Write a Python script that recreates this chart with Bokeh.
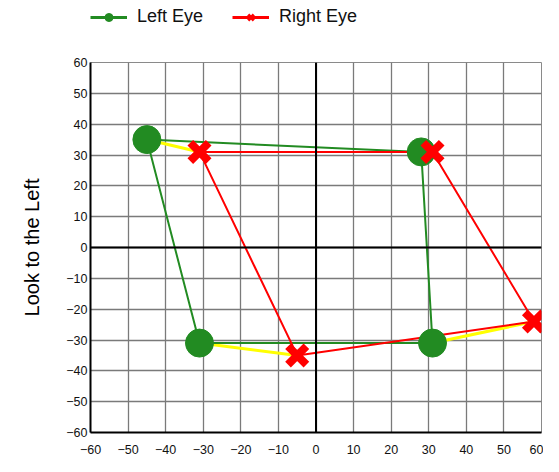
from bokeh.plotting import figure
from bokeh.layouts import column
from bokeh.models import (Range1d, FixedTicker, Span, Legend, LegendItem,
                          ColumnDataSource)
from bokeh.embed import file_html
from bokeh.resources import INLINE

# ---- data ----
left_x = [-45, 28, 31, -31]
left_y = [35, 31, -31, -31]
right_x = [-31, 31, 58, -5]
right_y = [31, 31, -24, -35]
ticks = list(range(-60, 61, 10))
series_names = ["Left Eye", "Right Eye"]
y_title = "Look to the Left"

GREEN = "#228B22"
RED = "#FF0000"
YELLOW = "#FFFF00"
FONT = "Liberation Sans"

# ---------- legend strip ----------
pl = figure(width=543, height=30, output_backend="svg", toolbar_location=None,
            x_range=Range1d(-60, 60), y_range=Range1d(-60, 60),
            x_axis_location=None, y_axis_location=None,
            min_border_left=0, min_border_right=0, min_border_top=0,
            min_border_bottom=0)
pl.grid.visible = False
pl.outline_line_color = None
pl.background_fill_color = "white"
pl.border_fill_color = "white"

gl = pl.line(left_x, left_y, line_color=GREEN, line_width=3, visible=False)
gm = pl.scatter(left_x, left_y, marker="circle", fill_color=GREEN, line_color=GREEN,
                visible=False)
rl = pl.line(right_x, right_y, line_color=RED, line_width=3, visible=False)
rm = pl.scatter(right_x, right_y, marker="x", line_color=RED, line_width=3,
                visible=False)

legend = Legend(items=[LegendItem(label=series_names[0], renderers=[gl, gm]),
                       LegendItem(label=series_names[1], renderers=[rl, rm])],
                orientation="horizontal", location=(0, 3),
                glyph_width=37, glyph_height=20, label_height=20,
                label_standoff=10, spacing=29, padding=0, margin=0,
                label_text_font=FONT, label_text_font_size="18px",
                label_text_color="#111111", inactive_fill_alpha=0,
                border_line_alpha=0, background_fill_alpha=0)
pl.add_layout(legend, "center")

# ---------- main chart ----------
p = figure(width=543, height=426, output_backend="svg", toolbar_location=None,
           x_range=Range1d(-60, 60), y_range=Range1d(-60, 60),
           min_border_left=90, min_border_right=2, min_border_top=32,
           min_border_bottom=24)
p.background_fill_color = "white"
p.border_fill_color = "white"
p.outline_line_color = "#8a8a8a"
p.outline_line_width = 1

for ax in (p.xaxis[0], p.yaxis[0]):
    ax.ticker = FixedTicker(ticks=ticks)
    ax.major_tick_out = 0
    ax.major_tick_in = 0
    ax.minor_tick_out = 0
    ax.minor_tick_in = 0
    ax.axis_line_color = "black"
    ax.axis_line_width = 2
    ax.major_label_text_font = FONT
    ax.major_label_text_font_size = "12.5px"
    ax.major_label_text_color = "#111111"
p.xaxis.major_label_standoff = 12
p.yaxis.major_label_standoff = 3
p.yaxis.axis_label = y_title
p.yaxis.axis_label_text_font = FONT
p.yaxis.axis_label_text_font_size = "20px"
p.yaxis.axis_label_text_font_style = "normal"
p.yaxis.axis_label_text_color = "black"
p.yaxis.axis_label_standoff = 20

for g in (p.xgrid[0], p.ygrid[0]):
    g.ticker = FixedTicker(ticks=ticks)
    g.grid_line_color = "#7a7a7a"
    g.grid_line_width = 1.3

p.add_layout(Span(location=0, dimension="height", line_color="black", line_width=2))
p.add_layout(Span(location=0, dimension="width", line_color="black", line_width=2))

# connecting segments (left eye <-> right eye)
p.segment(x0=left_x, y0=left_y, x1=right_x, y1=right_y, line_color=YELLOW, line_width=3)

# closed outlines
lsrc = ColumnDataSource(dict(x=left_x + left_x[:1], y=left_y + left_y[:1]))
rsrc = ColumnDataSource(dict(x=right_x + right_x[:1], y=right_y + right_y[:1]))
p.line("x", "y", source=lsrc, line_color=GREEN, line_width=2)
p.line("x", "y", source=rsrc, line_color=RED, line_width=2)

p.scatter(left_x, left_y, marker="circle", size=28, fill_color=GREEN, line_color=GREEN)
p.scatter(right_x, right_y, marker="x", size=26, line_color=RED, line_width=8)

layout = column(pl, p, spacing=0)
open("out.html", "w").write(file_html(layout, INLINE))
